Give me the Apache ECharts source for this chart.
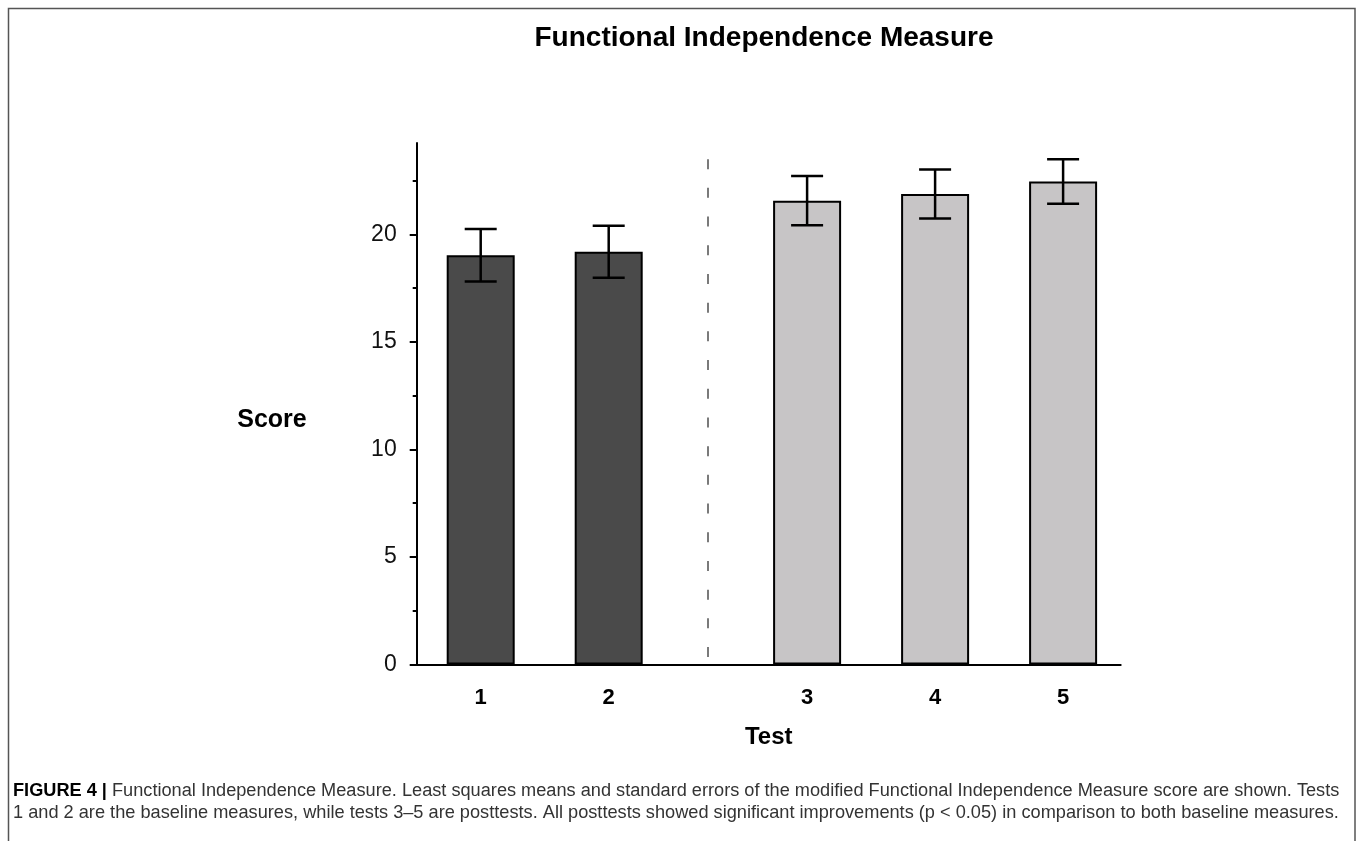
<!DOCTYPE html>
<html>
<head>
<meta charset="utf-8">
<style>
html,body{margin:0;padding:0;background:#fff;}
#chart{width:1358px;height:841px;}
</style>
<script src="https://cdn.jsdelivr.net/npm/echarts@6/dist/echarts.min.js"></script>
</head>
<body>
<div id="chart"></div>
<script>
// ---- data ----
const categories = ['1', '2', '3', '4', '5'];
const means = [19.03, 19.19, 21.57, 21.88, 22.46];
const stdErrors = [1.22, 1.21, 1.15, 1.14, 1.03];
const yTicks = [0, 5, 10, 15, 20];
const yMinorTicks = [2.5, 7.5, 12.5, 17.5, 22.5];
const baselineCount = 2;
const titleText = 'Functional Independence Measure';
const captionBold = 'FIGURE 4 |';
const captionLine1 = ' Functional Independence Measure. Least squares means and standard errors of the modified Functional Independence Measure score are shown. Tests';
const captionLine2 = '1 and 2 are the baseline measures, while tests 3\u20135 are posttests. All posttests showed significant improvements (p < 0.05) in comparison to both baseline measures.';

// ---- layout helpers ----
const groupGap = 0.55; // extra space between baseline and posttest groups
const positions = categories.map((c, i) => i + 1 + (i >= baselineCount ? groupGap : 0));
const dividerX = (positions[baselineCount - 1] + positions[baselineCount]) / 2;

const darkColor = '#4a4a4a';
const lightColor = '#c7c5c6';

const barData = means.map((m, i) => ({
  value: [positions[i], m],
  itemStyle: { color: i < baselineCount ? darkColor : lightColor }
}));
const errData = means.map((m, i) => [positions[i], m - stdErrors[i], m + stdErrors[i]]);

// caption font fitting
const captionFont = '"Liberation Sans", Arial, sans-serif';
const cv = document.createElement('canvas').getContext('2d');
function measure(txt, weight, size) {
  cv.font = weight + ' ' + size + 'px ' + captionFont;
  return cv.measureText(txt).width;
}
const capTarget = 1327;
const w1 = measure(captionBold, 'bold', 16) + measure(captionLine1, 'normal', 16);
const w2 = measure(captionLine2, 'normal', 16);
const fs1 = 16 * capTarget / w1;
const fs2 = 16 * capTarget / w2;

const chart = echarts.init(document.getElementById('chart'), null, { renderer: 'canvas' });

const option = {
  backgroundColor: '#fff',
  animation: false,
  title: {
    text: titleText,
    left: 764,
    textAlign: 'center',
    top: 24,
    padding: 0,
    textStyle: { fontFamily: 'Liberation Sans, Arial, sans-serif', fontWeight: 'bold', fontSize: 28, color: '#000' }
  },
  grid: { left: 416.7, right: 237.3, top: 143, bottom: 176.5 },
  xAxis: {
    type: 'value',
    min: 0.5,
    max: 6,
    axisLine: { show: true, lineStyle: { color: '#000', width: 2 } },
    axisTick: { show: false },
    splitLine: { show: false },
    axisLabel: {
      customValues: positions,
      formatter: v => {
        const idx = positions.findIndex(p => Math.abs(p - v) < 1e-6);
        return idx >= 0 ? categories[idx] : '';
      },
      margin: 22,
      fontFamily: 'Liberation Sans, Arial, sans-serif',
      fontWeight: 'bold',
      fontSize: 22,
      color: '#000'
    },
    name: 'Test',
    nameLocation: 'middle',
    nameGap: 61,
    nameTextStyle: { fontFamily: 'Liberation Sans, Arial, sans-serif', fontWeight: 'bold', fontSize: 24, color: '#000' }
  },
  yAxis: [{
    type: 'value',
    min: 0,
    max: 24.25,
    axisLine: { show: true, lineStyle: { color: '#000', width: 2 } },
    axisTick: { show: true, customValues: yTicks, length: 7, lineStyle: { color: '#000', width: 2 } },
    splitLine: { show: false },
    axisLabel: {
      customValues: yTicks,
      margin: 20,
      fontFamily: 'Liberation Sans, Arial, sans-serif',
      fontSize: 23,
      color: '#111'
    },
    name: 'Score',
    nameLocation: 'middle',
    nameRotate: 0,
    nameGap: 110,
    nameTextStyle: { fontFamily: 'Liberation Sans, Arial, sans-serif', fontWeight: 'bold', fontSize: 25, color: '#000', verticalAlign: 'top', lineHeight: 32 }
  }, {
    type: 'value',
    min: 0,
    max: 24.25,
    position: 'left',
    axisLine: { show: false },
    axisTick: { show: true, customValues: yMinorTicks, length: 4, lineStyle: { color: '#000', width: 2 } },
    axisLabel: { show: false },
    splitLine: { show: false }
  }],
  series: [{
    type: 'bar',
    xAxisIndex: 0,
    yAxisIndex: 0,
    barWidth: 68,
    data: barData,
    itemStyle: { borderColor: '#000', borderWidth: 2 },
    markLine: {
      silent: true,
      symbol: 'none',
      label: { show: false },
      lineStyle: { color: '#7a7a7a', width: 2, type: [10, 18.7] },
      data: [[{ coord: [dividerX, 23.5] }, { coord: [dividerX, 0.35] }]]
    },
    z: 2
  }, {
    type: 'custom',
    xAxisIndex: 0,
    yAxisIndex: 0,
    z: 5,
    data: errData,
    renderItem: (params, api) => {
      const x = api.value(0);
      const lo = api.coord([x, api.value(1)]);
      const hi = api.coord([x, api.value(2)]);
      const hw = 16;
      const style = { stroke: '#000', lineWidth: 2.5, fill: null };
      return {
        type: 'group',
        children: [
          { type: 'line', shape: { x1: lo[0], y1: lo[1], x2: hi[0], y2: hi[1] }, style },
          { type: 'line', shape: { x1: hi[0] - hw, y1: hi[1], x2: hi[0] + hw, y2: hi[1] }, style },
          { type: 'line', shape: { x1: lo[0] - hw, y1: lo[1], x2: lo[0] + hw, y2: lo[1] }, style }
        ]
      };
    }
  }],
  graphic: [{
    type: 'polyline',
    silent: true,
    shape: { points: [[8.5, 841], [8.5, 8.5], [1355, 8.5], [1355, 841]] },
    style: { stroke: '#555', lineWidth: 1.5, fill: null }
  }, {
    type: 'text',
    left: 13,
    top: 793 - fs1 * 0.6,
    style: {
      text: '{b|' + captionBold + '}' + captionLine1,
      font: 'normal ' + fs1.toFixed(2) + 'px ' + captionFont,
      fill: '#333',
      rich: {
        b: { fontWeight: 'bold', fontSize: fs1, fontFamily: captionFont, fill: '#000' }
      }
    }
  }, {
    type: 'text',
    left: 13,
    top: 815 - fs2 * 0.6,
    style: {
      text: captionLine2,
      font: 'normal ' + fs2.toFixed(2) + 'px ' + captionFont,
      fill: '#333'
    }
  }]
};
chart.setOption(option);
</script>
</body>
</html>
